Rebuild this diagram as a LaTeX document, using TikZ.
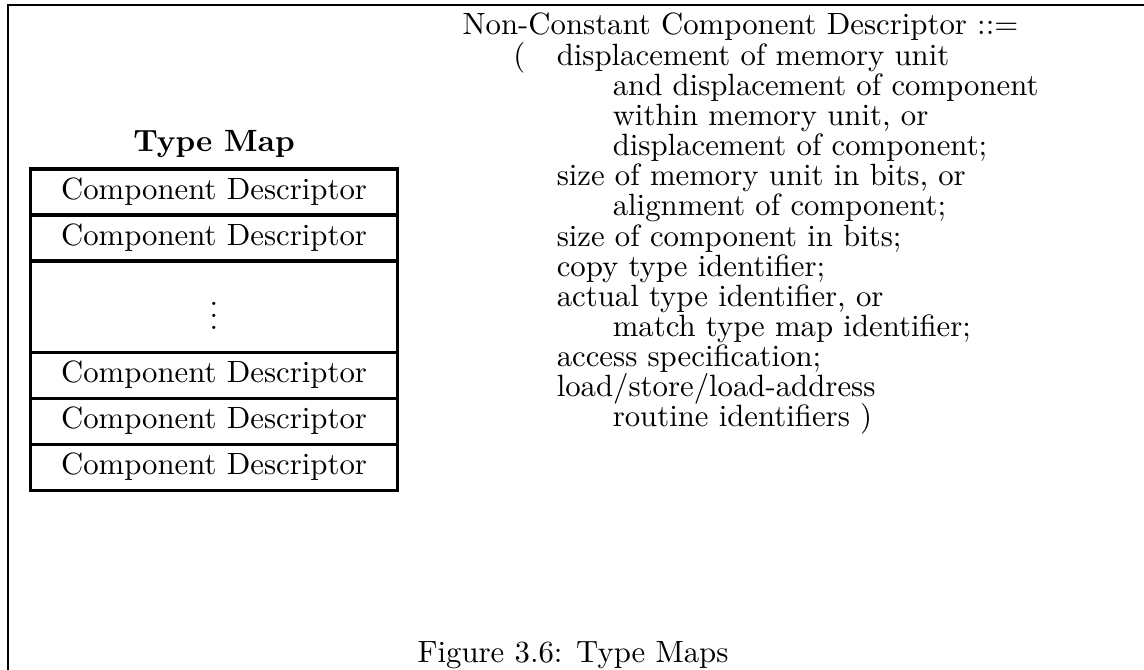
\documentclass[tikz,border=0pt]{standalone}
\usepackage{tikz}
\usetikzlibrary{positioning}
\tikzstyle{cdbox} = [rectangle, draw, line width=1pt, outer sep=0pt, inner sep=0pt, minimum width=119pt, minimum height=14.95pt, text centered]
\newcommand{\lvlone}{\hspace*{30.6pt}}
\newcommand{\lvltwo}{\hspace*{48.8pt}}
\newcommand{\grammarfont}{\fontsize{10}{9.8}\selectfont\lineskiplimit=-100pt\relax}

\begin{document}
\begin{tikzpicture}[x=0.325pt, y=-0.325pt]
                \useasboundingbox (0,0) rectangle (1144,670);
                \coordinate (frametr) at (1144,5);
                \coordinate (frametl) at (8,5);
                \coordinate (framebl) at (8,670);
                \draw [line width=0.9pt] (frametr) -- (frametl) -- (framebl);

                \node (cd1) [cdbox] at (214,192) {Component Descriptor};
                \node (cd2) [cdbox, below = 0pt of cd1] {Component Descriptor};
                \node (dots) [cdbox, below = 0pt of cd2, minimum height = 29.6pt] {$\vdots$};
                \node (cd3) [cdbox, below = 0pt of dots] {Component Descriptor};
                \node (cd4) [cdbox, below = 0pt of cd3] {Component Descriptor};
                \node (cd5) [cdbox, below = 0pt of cd4] {Component Descriptor};
                \node (typemap) [above = 0pt of cd1] {\textbf{Type Map}};

                % base of this node is the last line
                \node (grammar) [anchor = base west, align = left, inner sep = 0pt, font = \grammarfont] at (462,427) {%
                    Non-Constant Component Descriptor ::=\\
                    \makebox[30.6pt][l]{\hspace*{16.5pt}(}displacement of memory unit\\
                    \lvltwo and displacement of component\\
                    \lvltwo within memory unit, or\\
                    \lvltwo displacement of component;\\
                    \lvlone size of memory unit in bits, or\\
                    \lvltwo alignment of component;\\
                    \lvlone size of component in bits;\\
                    \lvlone copy type identifier;\\
                    \lvlone actual type identifier, or\\
                    \lvltwo match type map identifier;\\
                    \lvlone access specification;\\
                    \lvlone load/store/load-address\\
                    \lvltwo routine identifiers )};

                \node (caption) at (573,655) {Figure 3.6: Type Maps};
            \end{tikzpicture}
\end{document}
